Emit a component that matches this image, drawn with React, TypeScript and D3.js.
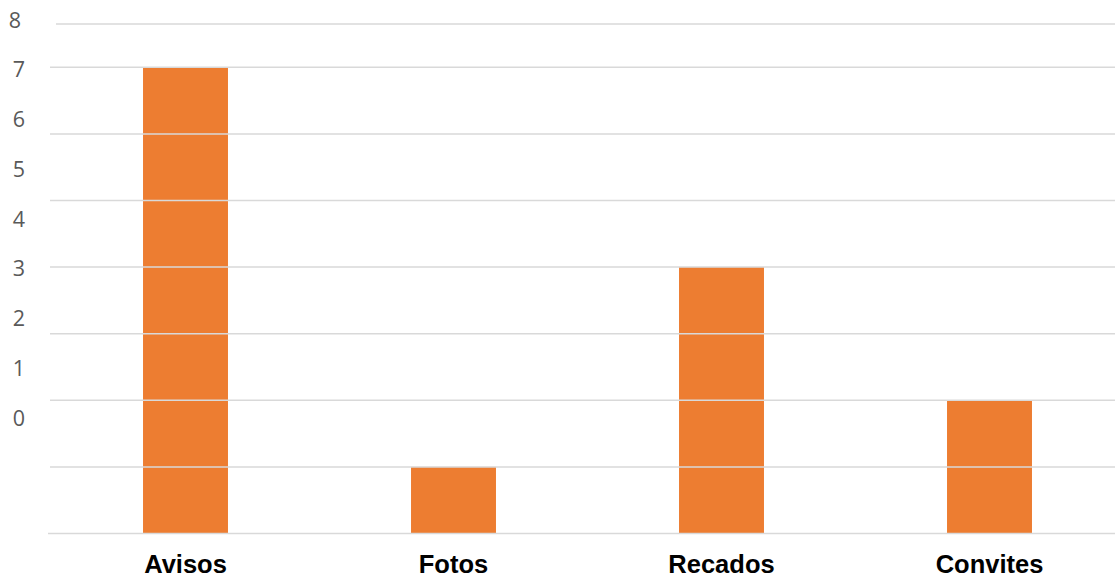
import React from "react";
import * as d3 from "d3";

const categories = ["Avisos", "Fotos", "Recados", "Convites"];
const values = [7, 1, 4, 2];
const gridValues = [0, 1, 2, 3, 4, 5, 6, 7];
const tickLabels = ["8", "7", "6", "5", "4", "3", "2", "1", "0"];

const W = 1115;
const H = 578;

export default function App() {
  const y = d3.scaleLinear().domain([0, 8]).range([533.5, 0.7]);
  const x = d3
    .scaleBand<string>()
    .domain(categories)
    .range([51.5, 1123.5])
    .paddingInner(0.683)
    .paddingOuter(0.3415);
  // the axis text runs on its own evenly spaced scale
  const labelY = d3
    .scalePoint<string>()
    .domain(tickLabels)
    .range([20, 418]);

  const grid = "#d9d9d9";

  return (
    <div style={{ position: "fixed", left: 0, top: 0, width: W, height: H, background: "#fff" }}>
      <svg width={W} height={H} style={{ display: "block" }}>
        {categories.map((c, i) => (
          <rect
            key={c}
            x={x(c)}
            y={y(values[i])}
            width={x.bandwidth()}
            height={y(0) - y(values[i])}
            fill="#ED7D31"
          />
        ))}
        <line x1={56} x2={W} y1={24} y2={24} stroke={grid} strokeWidth={1.5} />
        {gridValues.map((v) => (
          <line
            key={v}
            x1={v === 0 ? 48 : 50}
            x2={W}
            y1={y(v)}
            y2={y(v)}
            stroke={grid}
            strokeWidth={1.5}
          />
        ))}
        {tickLabels.map((t) => (
          <text
            key={t}
            x={t === "8" ? 15 : 19}
            y={labelY(t)}
            dy="0.36em"
            textAnchor="middle"
            fontFamily="'Open Sans', sans-serif"
            fontSize={21.5}
            fill="#595959"
          >
            {t}
          </text>
        ))}
        {categories.map((c) => (
          <text
            key={c}
            x={(x(c) as number) + x.bandwidth() / 2}
            y={573}
            textAnchor="middle"
            fontFamily="'Liberation Sans', Arial, sans-serif"
            fontWeight="bold"
            fontSize={25.5}
            fill="#000"
          >
            {c}
          </text>
        ))}
      </svg>
    </div>
  );
}
